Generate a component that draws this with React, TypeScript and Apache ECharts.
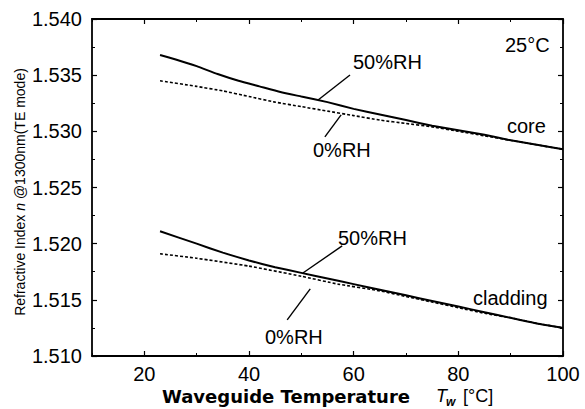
import React, { useEffect, useRef } from "react";
import * as echarts from "echarts";

const coreX50 = [23, 26, 30, 34, 38, 42, 46, 50, 55, 60, 65, 70, 75, 80, 85, 90, 95, 100];
const core50 = [1.5368, 1.5364, 1.5358, 1.5351, 1.5345, 1.5340, 1.5335, 1.5331, 1.5326, 1.5320, 1.5315, 1.5310, 1.5305, 1.5301, 1.5297, 1.5292, 1.5288, 1.5284];
const coreX0 = [23, 30, 35, 40, 45, 50, 55, 60, 65, 70, 75, 80, 85, 90, 95, 100];
const core0 = [1.5345, 1.5340, 1.5336, 1.5331, 1.5326, 1.5322, 1.5318, 1.5314, 1.5310, 1.5307, 1.5304, 1.5300, 1.5296, 1.5292, 1.5288, 1.5284];
const cladX50 = [23, 30, 35, 40, 45, 50, 55, 60, 65, 70, 75, 80, 85, 90, 95, 100];
const clad50 = [1.5211, 1.5200, 1.5192, 1.5185, 1.5179, 1.5174, 1.5169, 1.5164, 1.5159, 1.5154, 1.5149, 1.5144, 1.5139, 1.5134, 1.5129, 1.5125];
const cladX0 = [23, 30, 40, 50, 57, 65, 70, 75, 80, 85, 90, 95, 100];
const clad0 = [1.5191, 1.5187, 1.5180, 1.5171, 1.5164, 1.5158, 1.5153, 1.5148, 1.5143, 1.5138, 1.5134, 1.5129, 1.5125];

const xTicks = [20, 40, 60, 80, 100];

// annotation arrows in data coordinates: [fromX, fromY, toX, toY]
const arrows = [
  [59.3, 1.53502, 53.2, 1.53279],
  [54.5, 1.5295, 57.6, 1.53146],
  [57.8, 1.5198, 50.3, 1.51739],
  [47.3, 1.51321, 51.7, 1.51597],
];

const zip = (xs: number[], ys: number[]) => xs.map((x, i) => [x, ys[i]]);

export default function App() {
  const ref = useRef<HTMLDivElement>(null);
  useEffect(() => {
    if (!ref.current) return;
    const chart = echarts.init(ref.current, null, { renderer: "svg" });
    const font = "Liberation Sans, Arial, sans-serif";
    const xMajor = (pos: string, showLabel: boolean) => ({
      type: "value",
      position: pos,
      min: 10,
      max: 100,
      interval: 10,
      axisLine: { show: true, onZero: false, lineStyle: { color: "#000", width: 1.8 } },
      axisTick: { show: true, inside: true, length: 5, customValues: xTicks, lineStyle: { color: "#000", width: 1.2 } },
      splitLine: { show: false },
      axisLabel: {
        show: showLabel,
        customValues: xTicks,
        color: "#000",
        fontSize: 20,
        fontFamily: font,
        margin: 8,
      },
    });
    const xMinor = (pos: string) => ({
      type: "value",
      position: pos,
      min: 10,
      max: 100,
      interval: 10,
      axisLine: { show: false },
      axisTick: { show: true, inside: true, length: 3, lineStyle: { color: "#000", width: 1 } },
      splitLine: { show: false },
      axisLabel: { show: false },
    });
    const yBase = (pos: string, showLabel: boolean) => ({
      type: "value",
      position: pos,
      min: 1.51,
      max: 1.54,
      interval: 0.005,
      axisLine: { show: true, onZero: false, lineStyle: { color: "#000", width: 1.8 } },
      axisTick: { show: true, inside: true, length: 5, lineStyle: { color: "#000", width: 1.2 } },
      minorTick: { show: true, splitNumber: 2, length: 3, lineStyle: { color: "#000", width: 1 } },
      splitLine: { show: false },
      axisLabel: {
        show: showLabel,
        color: "#000",
        fontSize: 20,
        fontFamily: font,
        margin: 10,
        formatter: (v: number) => v.toFixed(3),
      },
    });
    const solid = { color: "#000", width: 2 };
    const dashed = { color: "#000", width: 1.6, type: [3, 2] };
    const option: any = {
      animation: false,
      backgroundColor: "#fff",
      grid: { left: 92, right: 22, top: 19, bottom: 53 },
      xAxis: [xMajor("bottom", true), xMajor("top", false), xMinor("bottom"), xMinor("top")],
      yAxis: [yBase("left", true), yBase("right", false)],
      series: [
        { type: "line", data: zip(coreX50, core50), symbol: "none", lineStyle: solid, smooth: 0.15 },
        { type: "line", data: zip(coreX0, core0), symbol: "none", lineStyle: dashed, smooth: 0.15 },
        { type: "line", data: zip(cladX50, clad50), symbol: "none", lineStyle: solid, smooth: 0.15 },
        {
          type: "line",
          data: zip(cladX0, clad0),
          symbol: "none",
          lineStyle: dashed,
          smooth: 0.15,
          markLine: {
            silent: true,
            symbol: ["none", "arrow"],
            symbolSize: [0, 9],
            label: { show: false },
            lineStyle: { color: "#000", width: 1.4, type: "solid" },
            data: arrows.map((a) => [{ coord: [a[0], a[1]] }, { coord: [a[2], a[3]] }]),
          },
        },
      ],
      graphic: [
        {
          type: "text",
          x: 20,
          y: 192,
          rotation: Math.PI / 2,
          style: {
            text: "Refractive Index {i|n} @1300nm(TE mode)",
            fontSize: 14,
            fontFamily: font,
            fill: "#000",
            align: "center",
            verticalAlign: "middle",
            rich: { i: { fontStyle: "italic", fontSize: 14, fontFamily: font, fill: "#000" } },
          },
        },
        {
          type: "text",
          x: 162,
          y: 396,
          style: {
            text: "Waveguide Temperature",
            fontSize: 18,
            fontWeight: "bold",
            fontFamily: "DejaVu Sans, sans-serif",
            fill: "#000",
            align: "left",
            verticalAlign: "middle",
          },
        },
        {
          type: "text",
          x: 436,
          y: 396,
          style: {
            text: "T",
            fontSize: 18,
            fontStyle: "italic",
            fontFamily: font,
            fill: "#000",
            align: "left",
            verticalAlign: "middle",
          },
        },
        {
          type: "text",
          x: 446,
          y: 402,
          style: {
            text: "w",
            fontSize: 12,
            fontStyle: "italic",
            fontWeight: "bold",
            fontFamily: font,
            fill: "#000",
            align: "left",
            verticalAlign: "middle",
          },
        },
        {
          type: "text",
          x: 463,
          y: 396,
          style: {
            text: "[°C]",
            fontSize: 18,
            fontFamily: font,
            fill: "#000",
            align: "left",
            verticalAlign: "middle",
          },
        },
        { type: "text", x: 505, y: 45, style: { text: "25°C", fontSize: 20, fontFamily: font, fill: "#000", align: "left", verticalAlign: "middle" } },
        { type: "text", x: 353, y: 62, style: { text: "50%RH", fontSize: 20, fontFamily: font, fill: "#000", align: "left", verticalAlign: "middle" } },
        { type: "text", x: 313, y: 150, style: { text: "0%RH", fontSize: 20, fontFamily: font, fill: "#000", align: "left", verticalAlign: "middle" } },
        { type: "text", x: 507, y: 126, style: { text: "core", fontSize: 20, fontFamily: font, fill: "#000", align: "left", verticalAlign: "middle" } },
        { type: "text", x: 338, y: 238, style: { text: "50%RH", fontSize: 20, fontFamily: font, fill: "#000", align: "left", verticalAlign: "middle" } },
        { type: "text", x: 265, y: 337, style: { text: "0%RH", fontSize: 20, fontFamily: font, fill: "#000", align: "left", verticalAlign: "middle" } },
        { type: "text", x: 473, y: 298, style: { text: "cladding", fontSize: 20, fontFamily: font, fill: "#000", align: "left", verticalAlign: "middle" } },
      ],
    };
    chart.setOption(option);
    return () => chart.dispose();
  }, []);
  return (
    <div
      ref={ref}
      style={{ position: "fixed", left: 0, top: 0, width: 585, height: 409, background: "#fff" }}
    />
  );
}
